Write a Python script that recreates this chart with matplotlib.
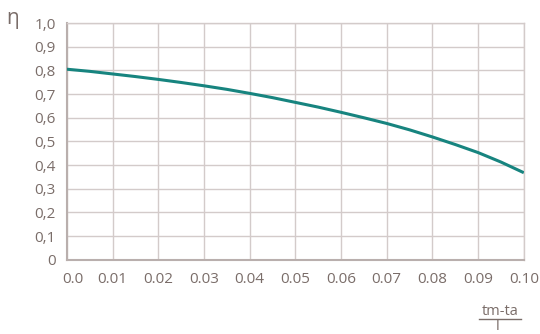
import matplotlib.pyplot as plt
from matplotlib.lines import Line2D
import matplotlib.transforms as mtransforms

# valores (cada 0.005)
x_vals = [0.0, 0.005, 0.01, 0.015, 0.02, 0.025, 0.03, 0.035, 0.04, 0.045, 0.05,
          0.055, 0.06, 0.065, 0.07, 0.075, 0.08, 0.085, 0.09, 0.095, 0.10]
eta = [0.805, 0.796, 0.785, 0.774, 0.762, 0.749, 0.735, 0.720, 0.703, 0.685, 0.665,
       0.645, 0.623, 0.600, 0.576, 0.549, 0.519, 0.487, 0.453, 0.413, 0.368]

x_ticks = [0.0, 0.01, 0.02, 0.03, 0.04, 0.05, 0.06, 0.07, 0.08, 0.09, 0.10]
x_labels = ['0.0', '0.01', '0.02', '0.03', '0.04', '0.05', '0.06', '0.07', '0.08', '0.09', '0.10']
y_ticks = [0, 0.1, 0.2, 0.3, 0.4, 0.5, 0.6, 0.7, 0.8, 0.9, 1.0]
y_labels = ['0', '0,1', '0,2', '0,3', '0,4', '0,5', '0,6', '0,7', '0,8', '0,9', '1,0']

txt = '#7a6d69'
grid = '#d3cbca'

plt.rcParams['font.family'] = ['Open Sans', 'DejaVu Sans']

fig = plt.figure(figsize=(5.4, 3.34), dpi=100)
ax = fig.add_axes([0.124, 0.222, 0.846, 0.709])

ax.plot(x_vals, eta, color='#17847f', linewidth=2.2, solid_capstyle='butt', zorder=3)

ax.set_xlim(0, 0.10)
ax.set_ylim(0, 1.0)
ax.set_xticks(x_ticks)
ax.set_xticklabels(x_labels)
ax.set_yticks(y_ticks)
ax.set_yticklabels(y_labels)
ax.tick_params(length=0, labelsize=11, labelcolor=txt)
ax.tick_params(axis='y', pad=8)
ax.tick_params(axis='x', pad=9)

# el primer rotulo del eje x va un poco a la derecha
lbl0 = ax.get_xticklabels()[0]
lbl0.set_transform(lbl0.get_transform() + mtransforms.ScaledTranslation(6 / 100, 0, fig.dpi_scale_trans))

ax.grid(True, color=grid, linewidth=1.0)
for s in ['top', 'right']:
    ax.spines[s].set_color(grid)
    ax.spines[s].set_linewidth(1.0)
for s in ['left', 'bottom']:
    ax.spines[s].set_color('#b9afad')
    ax.spines[s].set_linewidth(1.5)

fig.text(0.024, 0.945, 'η', color=txt, fontsize=15, ha='center', va='center')
fig.text(0.926, 0.068, 'tm-ta', color=txt, fontsize=10.5, ha='center', va='center')
fig.text(0.922, 0.022, 'l', color=txt, fontsize=10.5, ha='center', va='center')
fig.add_artist(Line2D([0.887, 0.965], [0.046, 0.046], transform=fig.transFigure,
                      color=txt, linewidth=1.0))

fig.savefig('out.png', dpi=100)
